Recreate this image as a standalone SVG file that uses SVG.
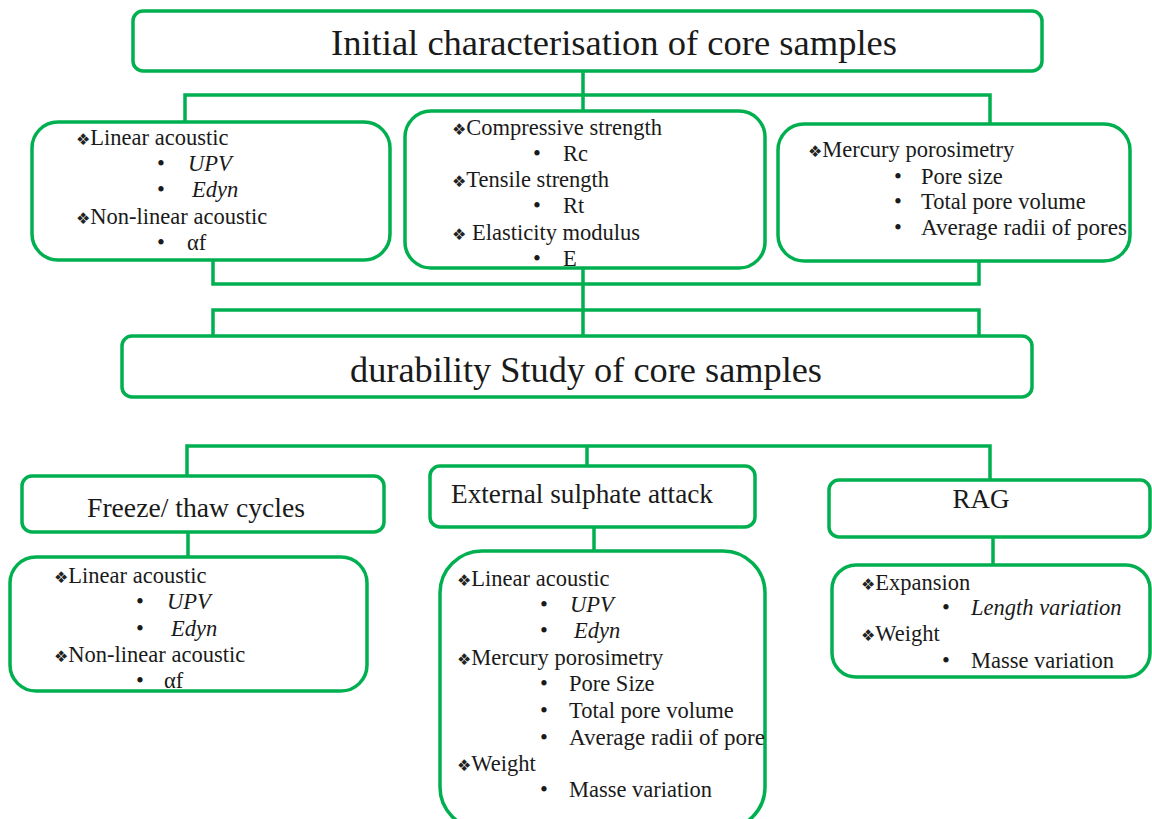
<svg xmlns="http://www.w3.org/2000/svg" width="1152" height="819" viewBox="0 0 1152 819">
  <style>
    .box { fill: #ffffff; stroke: #00b050; stroke-width: 3.5; }
    .wire { fill: none; stroke: #00b050; stroke-width: 3.5; stroke-linejoin: miter; }
    text { font-family: "Liberation Serif", "Times New Roman", serif; fill: #1a1a1a; }
    .title { font-size: 36px; text-anchor: middle; }
    .head { font-size: 27px; text-anchor: middle; }
    .item { font-size: 22.5px; }
    .it { font-style: italic; }
    .dia { font-family: "DejaVu Sans", sans-serif; font-size: 16px; fill: #222222; }
  </style>
  <rect width="1152" height="819" fill="#ffffff"/>

  <!-- connectors -->
  <g id="connectors" class="wire">
    <path d="M583 71 V95 M185 122 V95 H990 V125 M583 95 V111"/>
    <path d="M213 260 V284 H979 V261 M583 268 V336"/>
    <path d="M213 336 V310 H979 V336"/>
    <path d="M187 476 V446 H990 V480 M587 446 V466"/>
    <path d="M188 532 V557 M594 527 V551 M993 537 V565"/>
  </g>

  <!-- top level -->
  <g id="initial">
    <rect class="box" x="133" y="11" width="909" height="60" rx="10"/>
    <text class="title" x="614" y="55" textLength="566" lengthAdjust="spacingAndGlyphs">Initial characterisation of core samples</text>
  </g>

  <g id="acoustic">
    <rect class="box" x="32" y="122" width="358" height="138" rx="26"/>
    <text class="item" x="76" y="145"><tspan class="dia">❖</tspan>Linear acoustic</text>
    <text class="item" x="157" y="171">•</text><text class="item it" x="188" y="171">UPV</text>
    <text class="item" x="157" y="197">•</text><text class="item it" x="192" y="197">Edyn</text>
    <text class="item" x="76" y="224"><tspan class="dia">❖</tspan>Non-linear acoustic</text>
    <text class="item" x="157" y="250">•</text><text class="item" x="187" y="250">αf</text>
  </g>

  <g id="mechanical">
    <rect class="box" x="405" y="111" width="360" height="157" rx="26"/>
    <text class="item" x="452" y="135"><tspan class="dia">❖</tspan>Compressive strength</text>
    <text class="item" x="533" y="161">•</text><text class="item" x="563" y="161">Rc</text>
    <text class="item" x="452" y="187"><tspan class="dia">❖</tspan>Tensile strength</text>
    <text class="item" x="533" y="213">•</text><text class="item" x="563" y="213">Rt</text>
    <text class="item" x="452" y="240"><tspan class="dia">❖</tspan> Elasticity modulus</text>
    <text class="item" x="533" y="266">•</text><text class="item" x="563" y="266">E</text>
  </g>

  <g id="porosimetry">
    <rect class="box" x="778" y="124" width="352" height="137" rx="26"/>
    <text class="item" x="808" y="157"><tspan class="dia">❖</tspan>Mercury porosimetry</text>
    <text class="item" x="894" y="184">•</text><text class="item" x="921" y="184">Pore size</text>
    <text class="item" x="894" y="209">•</text><text class="item" x="921" y="209">Total pore volume</text>
    <text class="item" x="894" y="235">•</text><text class="item" x="921" y="235" textLength="206" lengthAdjust="spacingAndGlyphs">Average radii of pores</text>
  </g>

  <!-- second level -->
  <g id="durability">
    <rect class="box" x="122" y="336" width="910" height="61" rx="10"/>
    <text class="title" x="586" y="382" textLength="472" lengthAdjust="spacingAndGlyphs">durability Study of core samples</text>
  </g>

  <g id="freeze-thaw">
    <rect class="box" x="22" y="476" width="362" height="56" rx="10"/>
    <text class="head" x="196" y="517" textLength="218" lengthAdjust="spacingAndGlyphs">Freeze/ thaw cycles</text>
  </g>

  <g id="sulphate">
    <rect class="box" x="430" y="466" width="325" height="61" rx="10"/>
    <text class="head" x="582" y="503" textLength="262" lengthAdjust="spacingAndGlyphs">External sulphate attack</text>
  </g>

  <g id="rag">
    <rect class="box" x="829" y="480" width="321" height="57" rx="10"/>
    <text class="head" x="981" y="508">RAG</text>
  </g>

  <!-- measurements per test -->
  <g id="freeze-thaw-tests">
    <rect class="box" x="10" y="557" width="357" height="134" rx="26"/>
    <text class="item" x="54" y="583"><tspan class="dia">❖</tspan>Linear acoustic</text>
    <text class="item" x="136" y="609">•</text><text class="item it" x="167" y="609">UPV</text>
    <text class="item" x="136" y="636">•</text><text class="item it" x="171" y="636">Edyn</text>
    <text class="item" x="54" y="662"><tspan class="dia">❖</tspan>Non-linear acoustic</text>
    <text class="item" x="136" y="688">•</text><text class="item" x="164" y="688">αf</text>
  </g>

  <g id="sulphate-tests">
    <rect class="box" x="440" y="551" width="325" height="278" rx="42"/>
    <text class="item" x="457" y="586"><tspan class="dia">❖</tspan>Linear acoustic</text>
    <text class="item" x="540" y="612">•</text><text class="item it" x="570" y="612">UPV</text>
    <text class="item" x="540" y="638">•</text><text class="item it" x="574" y="638">Edyn</text>
    <text class="item" x="457" y="665"><tspan class="dia">❖</tspan>Mercury porosimetry</text>
    <text class="item" x="540" y="691">•</text><text class="item" x="569" y="691">Pore Size</text>
    <text class="item" x="540" y="718">•</text><text class="item" x="569" y="718">Total pore volume</text>
    <text class="item" x="540" y="745">•</text><text class="item" x="569" y="745" textLength="196" lengthAdjust="spacingAndGlyphs">Average radii of pore</text>
    <text class="item" x="457" y="771"><tspan class="dia">❖</tspan>Weight</text>
    <text class="item" x="540" y="797">•</text><text class="item" x="569" y="797">Masse variation</text>
  </g>

  <g id="rag-tests">
    <rect class="box" x="832" y="565" width="318" height="112" rx="24"/>
    <text class="item" x="861" y="590"><tspan class="dia">❖</tspan>Expansion</text>
    <text class="item" x="942" y="615">•</text><text class="item it" x="971" y="615">Length variation</text>
    <text class="item" x="861" y="641"><tspan class="dia">❖</tspan>Weight</text>
    <text class="item" x="942" y="668">•</text><text class="item" x="971" y="668">Masse variation</text>
  </g>
</svg>
